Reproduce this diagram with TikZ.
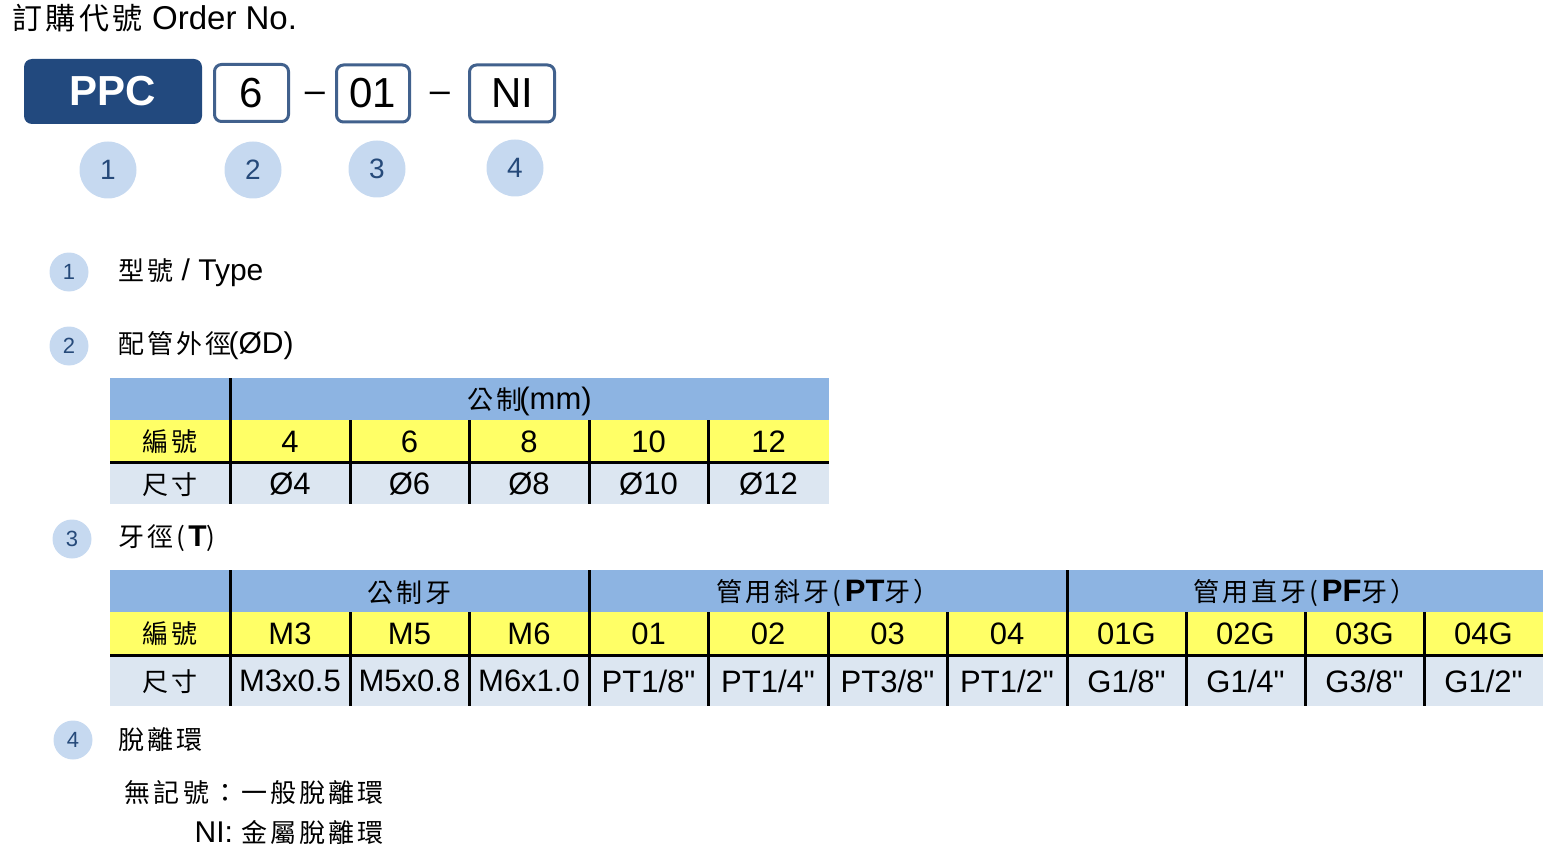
\documentclass[tikz,border=0pt]{standalone}
\usepackage{fontspec}
\setmainfont{Liberation Sans}
\newfontfamily\arial{Liberation Sans}
\newfontfamily\cjk[LetterSpace=12]{Noto Sans CJK TC}
\definecolor{ppcblue}{HTML}{22497E}
\definecolor{boxline}{HTML}{41618D}
\definecolor{circfill}{HTML}{C6D9F0}
\definecolor{circtext}{HTML}{264A7A}
\definecolor{hdrblue}{HTML}{8DB4E2}
\definecolor{yel}{HTML}{FFFF66}
\definecolor{gry}{HTML}{DCE6F1}
\newcommand{\fs}[1]{\fontsize{#1}{#1}\selectfont}
\newcommand{\dq}{{\arial\char34}}
\tikzset{
  bigcirc/.style={circle,fill=circfill,minimum size=57pt,inner sep=0pt,text=circtext,font=\fs{28}},
  smallcirc/.style={circle,fill=circfill,minimum size=39pt,inner sep=0pt,text=circtext,font=\fs{22}},
  codebox/.style={draw=boxline,line width=3pt,rounded corners=7pt,fill=white,minimum height=57pt,inner sep=0pt,font=\fs{42}},
  lbl/.style={anchor=west,inner sep=0pt,font=\fs{30}},
  cell/.style={inner sep=0pt,font=\arial\fs{31}},
  ccell/.style={inner sep=0pt,font=\cjk\fs{26}},
  rule/.style={line width=3pt,black},
}
\begin{document}
\begin{tikzpicture}[x=1pt,y=-1pt]
\useasboundingbox (0,0) rectangle (1555,853);
% title
\node[anchor=west,inner sep=0pt,font=\fs{33}] (title) at (12,18) {{\cjk\fs{30}訂購代號}\ Order No.};
% code line
\node[fill=ppcblue,rounded corners=8pt,minimum width=178pt,minimum height=65pt,inner sep=0pt,text=white,font=\bfseries\fs{42}] (ppc) at (113,91.5) {PPC};
\node[codebox,minimum width=74pt] (b6) at (251.5,93) {6};
\node[inner sep=0pt,font=\fs{36}] (d1) at (315,97) {–};
\node[codebox,minimum width=73pt] (b01) at (373,93.5) {01};
\node[inner sep=0pt,font=\fs{36}] (d2) at (440,97) {–};
\node[codebox,minimum width=85pt] (bni) at (512,93.5) {NI};
% number circles
\node[bigcirc] (c1) at (108,170) {1};
\node[bigcirc] (c2) at (253,170) {2};
\node[bigcirc] (c3) at (377,169) {3};
\node[bigcirc] (c4) at (515,168) {4};
% items
\node[smallcirc] (i1) at (69,272) {1};
\node[lbl] (l1) at (118,273) {{\cjk\fs{26}型號}\ / Type};
\node[smallcirc] (i2) at (69,346) {2};
\node[lbl] (l2) at (118,346) {{\cjk\fs{26}配管外徑}\hspace{-3pt}(ØD)};
\node[smallcirc] (i3) at (72,539) {3};
\node[lbl] (l3) at (118,538) {{\cjk\fs{26}牙徑(}\textbf{T}{\cjk\fs{26})}};
\node[smallcirc] (i4) at (73,740) {4};
\node[lbl] (l4) at (118,740) {{\cjk\fs{26}脫離環}};
% table 1
\fill[hdrblue] (110,378) rectangle (829,420);
\fill[yel] (110,420) rectangle (829,462);
\fill[gry] (110,462) rectangle (829,504);
\draw[rule] (110,462) -- (829,462);
\draw[rule] (230,378) -- (230,504);
\foreach \x in {350,469,589,708} \draw[rule] (\x,420) -- (\x,504);
\node[cell] (t1h) at (529.5,401) {{\cjk\fs{26}公制}\hspace{-3pt}(mm)};
\node[ccell] (t1k) at (170,442) {編號};
\node[ccell] (t1s) at (170,485) {尺寸};
\foreach \x/\a/\b [count=\i] in {290/4/Ø4,409.5/6/Ø6,529/8/Ø8,648.5/10/Ø10,768.5/12/Ø12}{
  \node[cell] (t1a\i) at (\x,442) {\a};
  \node[cell] (t1b\i) at (\x,484) {\b};
}
% table 2
\fill[hdrblue] (110,570) rectangle (1543,612);
\fill[yel] (110,612) rectangle (1543,654);
\fill[gry] (110,654) rectangle (1543,706);
\draw[rule] (110,655) -- (1543,655);
\foreach \x in {230,589,1067} \draw[rule] (\x,570) -- (\x,706);
\foreach \x in {350,469,708,828,947,1186,1305,1424} \draw[rule] (\x,612) -- (\x,706);
\node[ccell] (t2h1) at (409.5,593) {公制牙};
\node[cell] (t2h2) at (828,593) {{\cjk\fs{26}管用斜牙(}\textbf{PT}{\cjk\fs{26}牙）}};
\node[cell] (t2h3) at (1305,593) {{\cjk\fs{26}管用直牙(}\textbf{PF}{\cjk\fs{26}牙）}};
\node[ccell] (t2k) at (170,634) {編號};
\node[ccell] (t2s) at (170,682) {尺寸};
\foreach \x/\a/\b [count=\i] in {290/M3/M3x0.5,409.5/M5/M5x0.8,529/M6/M6x1.0,648.5/01/{PT1/8\dq},768/02/{PT1/4\dq},887.5/03/{PT3/8\dq},1007/04/{PT1/2\dq},1126.5/01G/{G1/8\dq},1245.5/02G/{G1/4\dq},1364.5/03G/{G3/8\dq},1483.5/04G/{G1/2\dq}}{
  \node[cell] (t2a\i) at (\x,634) {\a};
  \node[cell] (t2b\i) at (\x,681) {\b};
}
% notes
\node[anchor=east,inner sep=0pt,font=\cjk\fs{26}] (n1) at (384,793) {無記號：一般脫離環};
\node[anchor=east,inner sep=0pt,font=\fs{30}] (n2) at (384,833) {NI: {\cjk\fs{26}金屬脫離環}};
\end{tikzpicture}
\end{document}
